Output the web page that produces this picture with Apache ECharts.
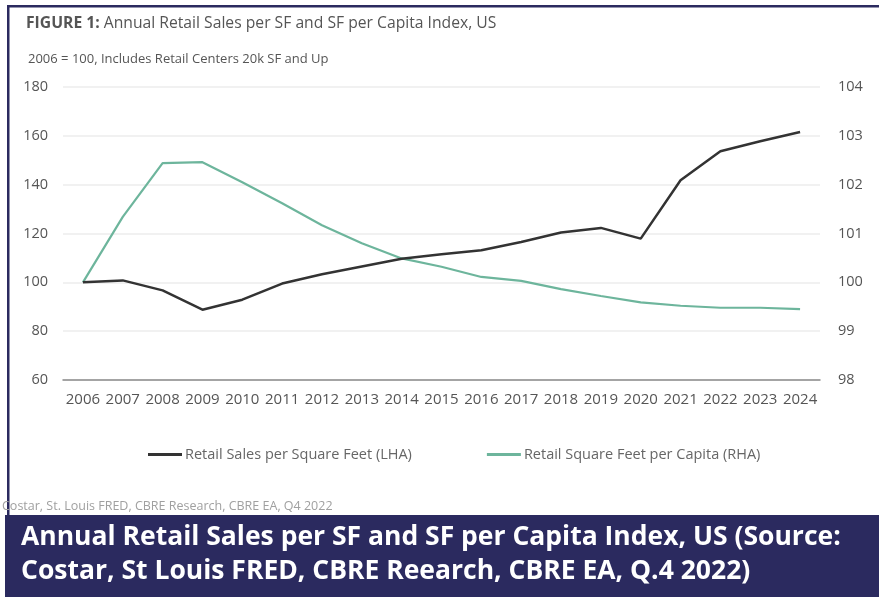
<!DOCTYPE html>
<html>
<head>
<meta charset="utf-8">
<script src="https://cdn.jsdelivr.net/npm/echarts@6/dist/echarts.min.js"></script>
<style>
  html, body { margin: 0; padding: 0; background: #ffffff; }
  #chart { width: 879px; height: 597px; }
</style>
</head>
<body>
<div id="chart"></div>
<script>
// Years on the category axis
const years = ['2006', '2007', '2008', '2009', '2010', '2011', '2012', '2013', '2014', '2015',
               '2016', '2017', '2018', '2019', '2020', '2021', '2022', '2023', '2024'];

// Retail sales per square foot index (left axis, 2006 = 100)
const salesPerSF = [100, 100.8, 96.7, 88.8, 92.9, 99.5, 103.3, 106.5, 109.7, 111.5,
                    113.1, 116.5, 120.4, 122.3, 117.9, 141.8, 153.7, 157.8, 161.6];

// Retail square feet per capita index (right axis, 2006 = 100)
const sfPerCapita = [100, 101.34, 102.44, 102.46, 102.05, 101.62, 101.17, 100.8, 100.49, 100.32,
                     100.11, 100.03, 99.86, 99.72, 99.59, 99.52, 99.48, 99.48, 99.45];

// Axis tick values
const leftTicks = { min: 60, max: 180, interval: 20 };
const rightTicks = { min: 98, max: 104, interval: 1 };

const seriesNames = ['Retail Sales per Square Feet (LHA)', 'Retail Square Feet per Capita (RHA)'];

const NAVY = '#2b2a5f';
const chartFont = '"Open Sans"';

const chart = echarts.init(document.getElementById('chart'), null, { renderer: 'canvas' });

chart.setOption({
  backgroundColor: '#ffffff',
  animation: false,
  textStyle: { fontFamily: chartFont },
  title: [
    {
      text: '{b|FIGURE 1:} Annual Retail Sales per SF and SF per Capita Index, US',
      left: 21, top: 11,
      textStyle: {
        fontFamily: chartFont, fontSize: 15.7, fontWeight: 'normal', color: '#555555',
        rich: { b: { fontFamily: chartFont, fontSize: 15.7, fontWeight: 'bold', color: '#555555' } }
      }
    },
    {
      text: '2006 = 100, Includes Retail Centers 20k SF and Up',
      left: 23, top: 48,
      textStyle: { fontFamily: chartFont, fontSize: 13, fontWeight: 'normal', color: '#555555' }
    }
  ],
  legend: {
    left: 143, top: 442,
    itemWidth: 34, itemHeight: 3, itemGap: 75,
    icon: 'rect',
    textStyle: { fontFamily: chartFont, fontSize: 14.5, color: '#666666', padding: [0, 0, 0, -2] },
    data: seriesNames
  },
  grid: { left: 63, right: 59, top: 87, bottom: 217 },
  xAxis: {
    type: 'category',
    data: years,
    boundaryGap: true,
    axisLine: { show: true, lineStyle: { color: '#8a8a8a', width: 1.5 } },
    axisTick: { show: false },
    axisLabel: { interval: 0, fontSize: 15, color: '#555555', margin: 12, fontFamily: chartFont }
  },
  yAxis: [
    {
      type: 'value',
      min: leftTicks.min, max: leftTicks.max, interval: leftTicks.interval,
      axisLine: { show: false }, axisTick: { show: false },
      splitLine: { lineStyle: { color: '#ececec', width: 1.5 } },
      axisLabel: { fontSize: 14.5, color: '#555555', margin: 15, fontFamily: chartFont }
    },
    {
      type: 'value',
      min: rightTicks.min, max: rightTicks.max, interval: rightTicks.interval,
      axisLine: { show: false }, axisTick: { show: false },
      splitLine: { show: false },
      axisLabel: { fontSize: 14.5, color: '#555555', margin: 18, fontFamily: chartFont }
    }
  ],
  series: [
    {
      name: seriesNames[0],
      type: 'line',
      yAxisIndex: 0,
      data: salesPerSF,
      symbol: 'none',
      z: 3,
      lineStyle: { color: '#333333', width: 2.5 },
      itemStyle: { color: '#333333' }
    },
    {
      name: seriesNames[1],
      type: 'line',
      yAxisIndex: 1,
      data: sfPerCapita,
      symbol: 'none',
      z: 2,
      lineStyle: { color: '#6db59c', width: 2.2 },
      itemStyle: { color: '#6db59c' }
    }
  ],
  graphic: [
    // frame: top and left rules
    { type: 'rect', shape: { x: 7, y: 5, width: 872, height: 2.5 }, style: { fill: NAVY }, silent: true },
    { type: 'rect', shape: { x: 7, y: 5, width: 2.5, height: 510 }, style: { fill: NAVY }, silent: true },
    // source line
    {
      type: 'text', left: 2, top: 500, silent: true,
      style: { text: 'Costar, St. Louis FRED, CBRE Research, CBRE EA, Q4 2022', fill: '#a0a0a0',
               font: '12.5px "Open Sans"' }
    },
    // caption banner
    { type: 'rect', shape: { x: 5, y: 515, width: 874, height: 82 }, style: { fill: NAVY }, silent: true },
    {
      type: 'text', left: 21, top: 524, silent: true,
      style: { text: 'Annual Retail Sales per SF and SF per Capita Index, US (Source:', fill: '#ffffff',
               font: 'bold 26.5px "Open Sans"' }
    },
    {
      type: 'text', left: 21, top: 558, silent: true,
      style: { text: 'Costar, St Louis FRED, CBRE Reearch, CBRE EA, Q.4 2022)', fill: '#ffffff',
               font: 'bold 26.5px "Open Sans"' }
    }
  ]
});
</script>
</body>
</html>
